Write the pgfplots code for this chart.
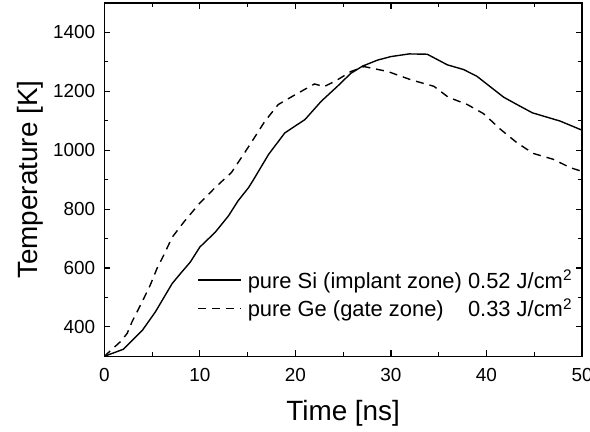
\documentclass[border=0pt]{standalone}
\usepackage{fontspec}
\setmainfont{Liberation Sans}
\usepackage{pgfplots}
\pgfplotsset{compat=1.18}
\usepackage{pgfplotstable}

\pgfplotstableread{
x y
0 300
2 324
4 389
5.35 451
7.1 547
8.1 586
9 620
10 671
11.6 721
13 777
14 828
15.1 873
15.6 899
17.2 986
18.9 1059
21.0 1104
22.7 1166
24.4 1217
25.8 1261
27.05 1286
28.6 1306
30 1318
31.9 1327
33.8 1326
35.9 1290
37.6 1274
39.0 1251
41.8 1180
43.2 1155
44.8 1127
47.7 1099
50 1068
}\tableSi

\pgfplotstableread{
x y
0 300
1.7 350
2.4 378
2.9 417
3.96 485
4.8 541
5.5 597
6.2 642
7.1 704
8.3 755
9.9 817
11.6 873
13.3 924
14.7 992
15.6 1037
16.8 1098
18.2 1155
19.9 1187
22.0 1225
23.0 1216
24.2 1235
25.8 1267
27.2 1284
29.7 1267
32.1 1239
34.5 1217
36.0 1180
38.0 1155
39.7 1124
41.5 1070
43.2 1025
44.9 989
47.0 969
48.75 941
50 928
}\tableGe

\newlength{\legw}
\newcommand{\tl}{\fontsize{19bp}{22bp}\selectfont}
\begin{document}
\settowidth{\legw}{\fontsize{22bp}{25bp}\selectfont pure Si (implant zone) }
\begin{tikzpicture}
\begin{axis}[
  at={(0,0)}, anchor=south west,
  scale only axis, width=480bp, height=355bp,
  xmin=0, xmax=50, ymin=300, ymax=1500,
  xtick={0,10,20,30,40,50},
  ytick={400,600,800,1000,1200,1400},
  minor x tick num=1, minor y tick num=1,
  tick align=inside,
  major tick length=6bp, minor tick length=4bp,
  axis line style={line width=1.5bp},
  every tick/.style={line width=1.2bp, black},
  every minor tick/.style={line width=1bp, black},
  /pgf/number format/assume math mode=true,
  /pgf/number format/1000 sep={},
  xticklabel={\tl\pgfmathprintnumber[assume math mode=true]{\tick}},
  yticklabel={\tl\pgfmathprintnumber[assume math mode=true]{\tick}},
  xticklabel style={anchor=base, inner sep=0pt, yshift=-25bp},
  yticklabel style={anchor=east, inner sep=0pt, xshift=-9bp},
  label style={font=\fontsize{28bp}{33bp}\selectfont},
  xlabel={Time [ns]},
  ylabel={Temperature [K]},
  xlabel style={at={(axis description cs:0.5,-0.183)}, anchor=base},
  ylabel style={at={(axis description cs:-0.14,0.5)}, anchor=base},
  legend style={draw=none, fill=none, at={(axis description cs:0.195,0.25)}, anchor=north west,
    font=\fontsize{22bp}{25bp}\selectfont, row sep=5bp, inner sep=0pt,
    nodes={inner sep=2bp}},
  legend cell align=left,
  legend image code/.code={\draw[#1] (0bp,0bp) -- (43bp,0bp); \path (47bp,0bp);},
]
\addplot[black, line width=1.4bp] table[x=x,y=y] {\tableSi};
\addlegendentry{pure Si (implant zone) 0.52 J/cm\textsuperscript{2}}
\addplot[black, line width=1.4bp, dash pattern=on 8bp off 6bp] table[x=x,y=y] {\tableGe};
\addlegendentry{\makebox[\legw][l]{pure Ge (gate zone)}0.33 J/cm\textsuperscript{2}}
\end{axis}
\pgfresetboundingbox
\path (-102bp,-76bp) rectangle (488bp,358bp);
\end{tikzpicture}
\end{document}
